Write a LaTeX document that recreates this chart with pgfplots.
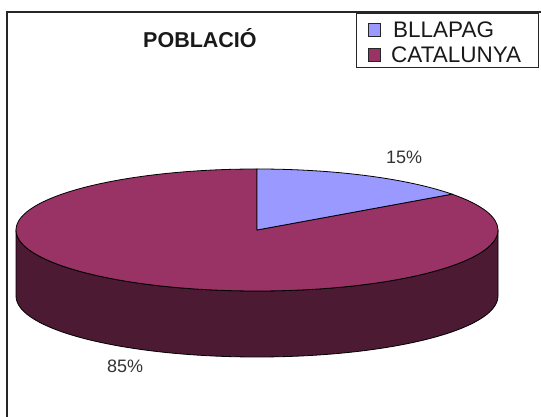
\documentclass[border=0pt]{standalone}
\usepackage{pgfplots}
\pgfplotsset{compat=1.18}
\usepackage{pgfplotstable}
\usepackage{fontspec}
\setmainfont{Liberation Sans}
\definecolor{blcol}{HTML}{9999FF}
\definecolor{catcol}{HTML}{993366}
\definecolor{catside}{HTML}{4D1A33}
\definecolor{txt}{HTML}{333333}
\pgfplotstableread{
label value
BLLAPAG 15
CATALUNYA 85
}\pietable
\begin{document}
\begin{tikzpicture}
\path[use as bounding box] (0,0) rectangle (541pt,417pt);
\pgfplotstablegetelem{0}{value}\of\pietable
\pgfmathsetmacro\vA{\pgfplotsretval}
\pgfplotstablegetelem{1}{value}\of\pietable
\pgfmathsetmacro\vB{\pgfplotsretval}
\pgfmathsetmacro\angA{90-360*\vA/(\vA+\vB)}
\pgfmathsetmacro\angAe{\angA+360}
\begin{axis}[
  at={(0pt,0pt)}, anchor=origin,
  scale only axis, width=541pt, height=417pt,
  xmin=0, xmax=541, ymin=0, ymax=417,
  hide axis, clip=false
]
% frame
\draw[black!85, line width=1.6pt] (axis cs:7,-20) -- (axis cs:7,405) -- (axis cs:560,405);
% side
\filldraw[fill=catside, draw=black, line width=0.8pt]
  (axis cs:16,187) arc[start angle=180, end angle=360, x radius=241pt, y radius=61pt]
  -- ++(0pt,-66pt) arc[start angle=360, end angle=180, x radius=241pt, y radius=61pt] -- cycle;
% top: CATALUNYA
\filldraw[fill=catcol, draw=black, line width=0.8pt]
  (axis cs:257,187) -- (axis cs:257,248) arc[start angle=90, end angle=\angAe, x radius=241pt, y radius=61pt] -- cycle;
% top: BLLAPAG
\filldraw[fill=blcol, draw=black, line width=0.8pt]
  (axis cs:257,187) -- ++(\angA:241pt and 61pt) arc[start angle=\angA, end angle=90, x radius=241pt, y radius=61pt] -- cycle;
% labels
\node[anchor=base west, text=txt, inner sep=0pt, font=\fontsize{18}{20}\selectfont] at (axis cs:386,253) {15\%};
\node[anchor=base west, text=txt, inner sep=0pt, font=\fontsize{18}{20}\selectfont] at (axis cs:107,44) {85\%};
% title
\node[anchor=base west, inner sep=0pt, font=\fontsize{21.5}{24}\selectfont\bfseries, text=black!90] at (axis cs:143,369) {POBLACIÓ};
% legend
\draw[black!85, line width=1pt] (axis cs:356,403) rectangle (axis cs:538,349);
\filldraw[fill=blcol, draw=black!85, line width=0.8pt] (axis cs:368,394) rectangle (axis cs:380,381);
\filldraw[fill=catcol, draw=black!85, line width=0.8pt] (axis cs:368,369) rectangle (axis cs:380,356);
\node[anchor=base west, inner sep=0pt, font=\fontsize{22.5}{25}\selectfont, text=black!90] at (axis cs:393,379) {BLLAPAG};
\node[anchor=base west, inner sep=0pt, font=\fontsize{22.5}{25}\selectfont, text=black!90] at (axis cs:391,354) {CATALUNYA};
\end{axis}
\end{tikzpicture}
\end{document}
